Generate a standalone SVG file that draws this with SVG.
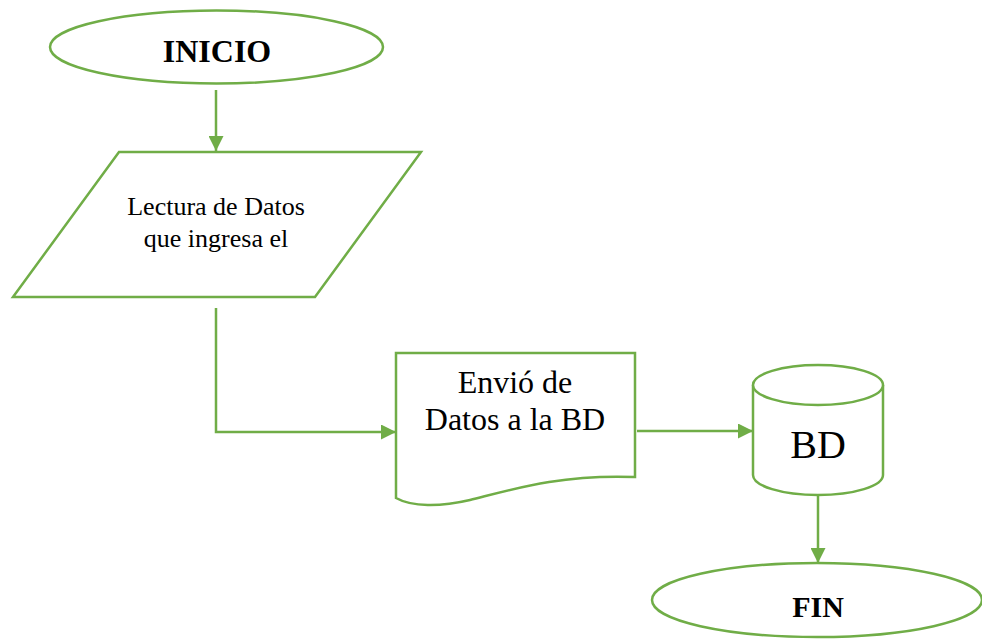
<svg xmlns="http://www.w3.org/2000/svg" width="982" height="639" viewBox="0 0 982 639">
<defs>
<style>
.shape{fill:#fff;stroke:#70AD47;stroke-width:2.5}
.conn{fill:none;stroke:#70AD47;stroke-width:2.5}
.t{font-family:"Liberation Serif","Times New Roman",serif;fill:#000;text-anchor:middle}
.b{font-weight:bold}
</style>
<marker id="arr" viewBox="0 0 10 10" refX="10" refY="5" markerWidth="6" markerHeight="6" markerUnits="strokeWidth" orient="auto">
<path d="M0,0 L10,5 L0,10 Z" fill="#70AD47"/>
</marker>
</defs>
<rect width="982" height="639" fill="#fff"/>
<g id="connectors">
<path class="conn" d="M216,90 V151" marker-end="url(#arr)"/>
<path class="conn" d="M216,308 V432 H396" marker-end="url(#arr)"/>
<path class="conn" d="M637,431 H753" marker-end="url(#arr)"/>
<path class="conn" d="M818,496 V563" marker-end="url(#arr)"/>
</g>
<g id="inicio">
<ellipse class="shape" cx="216.5" cy="47" rx="166.5" ry="36.5"/>
<text class="t b" x="217" y="62" font-size="32">INICIO</text>
</g>
<g id="lectura">
<polygon class="shape" points="119,152 421,152 315,297 13,297"/>
<text class="t" x="216" y="215" font-size="26">Lectura de Datos</text>
<text class="t" x="216" y="247" font-size="26">que ingresa el</text>
</g>
<g id="envio">
<path class="shape" d="M396,353 H635 V477 C 560,474 510,490 470,500 C 440,507 412,507 396,498 Z"/>
<text class="t" x="515" y="393" font-size="32">Envió de</text>
<text class="t" x="515" y="430" font-size="32">Datos a la BD</text>
</g>
<g id="bd">
<path class="shape" d="M753,385 A65,20 0 0 1 883,385 V475 A65,20 0 0 1 753,475 Z"/>
<path class="shape" fill="none" d="M753,385 A65,20 0 0 0 883,385"/>
<text class="t" x="818" y="458" font-size="40">BD</text>
</g>
<g id="fin">
<ellipse class="shape" cx="817" cy="600" rx="165" ry="37"/>
<text class="t b" x="818" y="617" font-size="30">FIN</text>
</g>
</svg>
